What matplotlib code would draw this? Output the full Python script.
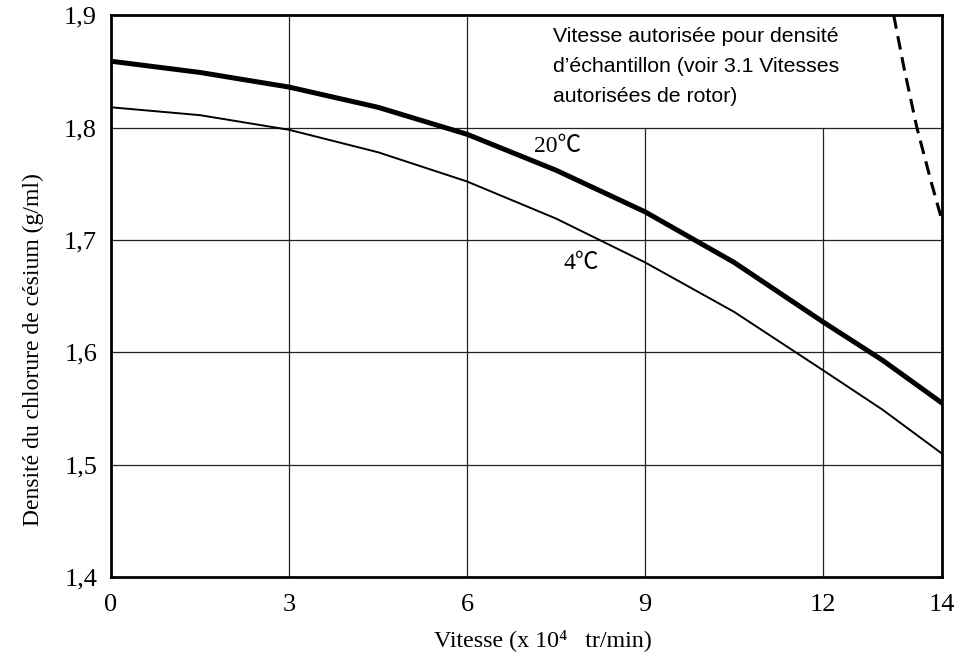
import numpy as np
import matplotlib.pyplot as plt

# values
speed = [0, 1.5, 3, 4.5, 6, 7.5, 9, 10.5, 12, 13, 14]
dens_20c = [1.859, 1.849, 1.836, 1.818, 1.794, 1.762, 1.725, 1.680, 1.627, 1.593, 1.555]
dens_4c = [1.818, 1.811, 1.798, 1.778, 1.752, 1.719, 1.680, 1.636, 1.584, 1.549, 1.510]

limit_speed = [13.19, 13.36, 13.58, 13.83, 14.0]
limit_dens = [1.9, 1.854, 1.8, 1.750, 1.718]

xticks = [0, 3, 6, 9, 12, 14]
yticks = [1.4, 1.5, 1.6, 1.7, 1.8, 1.9]
ytick_labels = ['1,4', '1,5', '1,6', '1,7', '1,8', '1,9']

vgrid = [3, 6, 9, 12]
vgrid_top = [1.9, 1.9, 1.8, 1.8]   # 9 and 12 stop under the note
hgrid = [1.5, 1.6, 1.7, 1.8]

serif = ['Liberation Serif', 'Noto Sans CJK JP', 'DejaVu Serif']

fig = plt.figure(figsize=(9.6, 6.58), dpi=100)
ax = fig.add_axes([0.1156, 0.123, 0.8654, 0.854])

for x, top in zip(vgrid, vgrid_top):
    ax.vlines(x, 1.4, top, color='#222222', lw=0.9)
ax.hlines(hgrid, 0, 14, color='#222222', lw=0.9)

ax.plot(speed, dens_20c, color='black', lw=3.6, solid_joinstyle='round')
ax.plot(speed, dens_4c, color='black', lw=1.4, solid_joinstyle='round')
ax.plot(limit_speed, limit_dens, color='black', lw=2.2, ls=(0, (4.5, 2.5)))

ax.text(7.53, 1.783, '20℃', family=serif, fontsize=17, ha='center', va='center')
ax.text(7.93, 1.679, '4℃', family=serif, fontsize=17, ha='center', va='center')

ax.text(7.45, 1.889,
        'Vitesse autorisée pour densité\nd\u2019échantillon (voir 3.1 Vitesses\nautorisées de rotor)',
        family=['Liberation Sans', 'DejaVu Sans'], fontsize=15.3, ha='left', va='top',
        linespacing=1.72)

ax.set_xlim(0, 14)
ax.set_ylim(1.4, 1.9)
ax.set_xticks(xticks)
ax.set_xticklabels([str(v) for v in xticks], family=serif, fontsize=19)
ax.set_yticks(yticks)
ax.set_yticklabels(ytick_labels, family=serif, fontsize=19)
ax.tick_params(axis='x', length=0, pad=12)
ax.tick_params(axis='y', length=0, pad=10)
for s in ax.spines.values():
    s.set_linewidth(2)

fig.text(543 / 960, 1 - 640 / 658, 'Vitesse (x 10\u2074   tr/min)', family=serif,
         fontsize=17.3, ha='center', va='center')
fig.text(33 / 960, 1 - 350 / 658, 'Densité du chlorure de césium (g/ml)', family=serif,
         fontsize=17, ha='center', va='center', rotation=90)

fig.savefig('out.png', dpi=100)
